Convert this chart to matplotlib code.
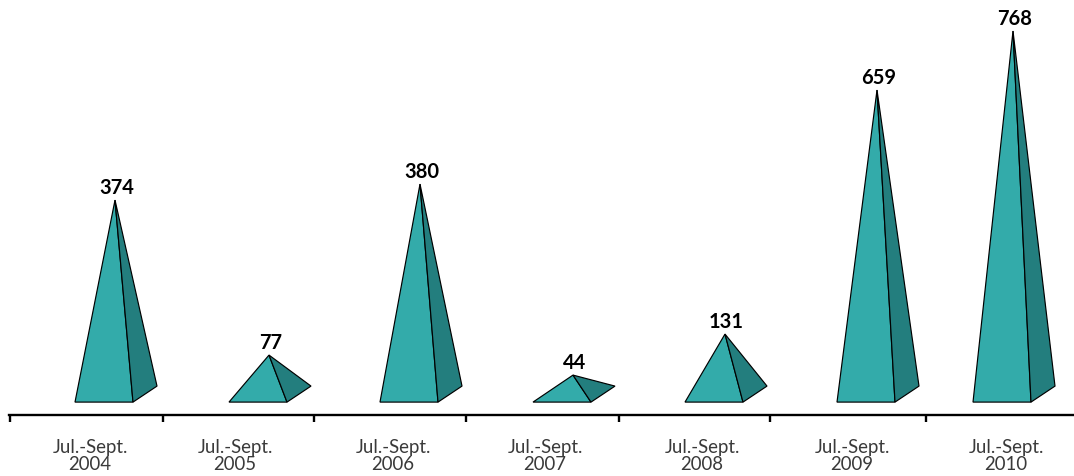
import numpy as np
import matplotlib
matplotlib.use("Agg")
import matplotlib.pyplot as plt
from matplotlib.patches import Polygon

# ==========================
# Data
# ==========================
periods = ["Jul.-Sept.\n2004", "Jul.-Sept.\n2005", "Jul.-Sept.\n2006", "Jul.-Sept.\n2007",
           "Jul.-Sept.\n2008", "Jul.-Sept.\n2009", "Jul.-Sept.\n2010"]
values = [374, 77, 380, 44, 131, 659, 768]

# The source graphic is not drawn to a linear scale: value -> pixels above the base
scale_values = [-30, 0, 44, 77, 131, 374, 380, 659, 768, 835]
scale_pixels = [-12.5, 0, 27, 47, 68, 202, 218, 312, 371, 402]

# ==========================
# Layout (pixels)
# ==========================
W, H = 1074, 476
AXIS_Y = 414.6
LEFT = [75, 229, 380, 533, 685, 837, 973]
TICKS = [10, 163, 314, 466, 619, 770, 926]
LABEL_X = [90, 235, 393, 545, 702, 852, 1006]
FRONT_W = 58
APEX_DX = 40
BACK_DX, BACK_DY = 24, 16


def forward(v):
    return np.interp(v, scale_values, scale_pixels)


def inverse(p):
    return np.interp(p, scale_pixels, scale_values)


plt.rcParams['font.family'] = ['Lato', 'DejaVu Sans']

fig = plt.figure(figsize=(W / 100, H / 100), dpi=100)
ax = fig.add_axes([0, 1 - AXIS_Y / H, 1, AXIS_Y / H])
ax.set_xlim(0, W)
ax.set_yscale('function', functions=(forward, inverse))
ax.set_ylim(scale_values[0], scale_values[-1])
ax.patch.set_alpha(0)

# ==========================
# Pyramids
# ==========================
back_y = inverse(BACK_DY)
for left, value in zip(LEFT, values):
    right = left + FRONT_W
    apex = (left + APEX_DX, value)
    ax.add_patch(Polygon([(left, 0), (right, 0), apex], closed=True,
                         facecolor='#33ABAA', edgecolor='black', linewidth=0.85))
    ax.add_patch(Polygon([(right, 0), (right + BACK_DX, back_y), apex], closed=True,
                         facecolor='#237E7E', edgecolor='black', linewidth=0.85))
    ax.annotate(str(value), xy=apex, xytext=(1.2, 8.6), textcoords='offset points',
                ha='center', va='center', fontsize=14.5, fontweight='bold', color='black')

# ==========================
# Axis
# ==========================
for side in ['top', 'left', 'right']:
    ax.spines[side].set_visible(False)
ax.spines['bottom'].set_linewidth(1.7)
ax.spines['bottom'].set_bounds(TICKS[0] - 1, W)
ax.yaxis.set_visible(False)
ax.set_xticks(TICKS)
ax.set_xticklabels([])
ax.tick_params(axis='x', which='major', length=5, width=1.7, color='black')
ax.set_xticks(LABEL_X, minor=True)
ax.set_xticklabels(periods, minor=True, fontsize=13.4, color='#3a3a3a', linespacing=1.02)
ax.tick_params(axis='x', which='minor', length=0, pad=17.5)

fig.savefig("out.png", dpi=100, facecolor='white')
